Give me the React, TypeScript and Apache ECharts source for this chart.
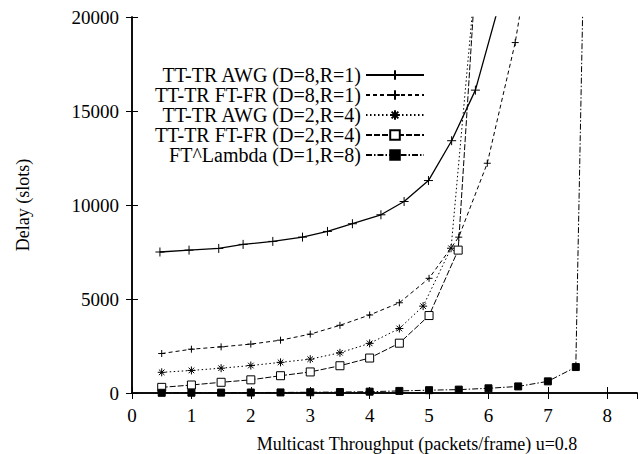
import React, { useEffect, useRef } from "react";
import * as echarts from "echarts";

const seriesNames = [
  "TT-TR AWG (D=8,R=1)",
  "TT-TR FT-FR (D=8,R=1)",
  "TT-TR AWG (D=2,R=4)",
  "TT-TR FT-FR (D=2,R=4)",
  "FT^Lambda (D=1,R=8)",
];

const awg81X = [0.47, 0.96, 1.46, 1.87, 2.37, 2.87, 3.29, 3.71, 4.19, 4.58, 4.99, 5.38, 5.78, 6.2];
const awg81Y = [7500, 7600, 7690, 7905, 8064, 8292, 8594, 9003, 9480, 10186, 11300, 13420, 16110, 20900];

const ftfr81X = [0.5, 1, 1.5, 2, 2.5, 3, 3.5, 4, 4.5, 5, 5.5, 5.98, 6.45, 6.6];
const ftfr81Y = [2100, 2330, 2455, 2600, 2810, 3130, 3600, 4150, 4800, 6100, 8290, 12220, 18640, 21500];

const awg24X = [0.5, 1, 1.5, 2, 2.5, 3, 3.5, 4, 4.5, 4.9, 5.37, 5.75];
const awg24Y = [1100, 1200, 1320, 1460, 1630, 1800, 2140, 2640, 3430, 4620, 7700, 21000];

const ftfr24X = [0.5, 1, 1.5, 2, 2.5, 3, 3.5, 4, 4.5, 5, 5.49, 5.76];
const ftfr24Y = [300, 425, 570, 700, 920, 1120, 1450, 1860, 2650, 4120, 7600, 21000];

const lambdaX = [0.5, 1, 1.5, 2, 2.5, 3, 3.5, 4, 4.5, 5, 5.5, 6, 6.5, 7, 7.47, 7.59];
const lambdaY = [10, 15, 20, 25, 30, 40, 50, 70, 110, 150, 180, 250, 350, 620, 1380, 21000];

const xTicks = [0, 1, 2, 3, 4, 5, 6, 7, 8];
const yTicks = [0, 5000, 10000, 15000, 20000];

const FONT = "Liberation Serif";
const INK = "#000";

const zip = (xs: number[], ys: number[]) => xs.map((x, i) => [x, ys[i]]);

const PLUS = "path://M0,5L10,5M5,0L5,10";
const STAR = "path://M5,0L5,10M0,5L10,5M1.5,1.5L8.5,8.5M8.5,1.5L1.5,8.5";

export default function App() {
  const ref = useRef<HTMLDivElement>(null);
  useEffect(() => {
    if (!ref.current) return;
    const chart = echarts.init(ref.current, undefined, { renderer: "svg" });
    const axisCommon = {
      type: "value" as const,
      axisLine: { show: true, lineStyle: { color: INK, width: 1.5 } },
      axisTick: { show: true, inside: true, length: 6, lineStyle: { color: INK, width: 1 } },
      splitLine: { show: false },
    };
    const xFmt = (v: number) => (xTicks.indexOf(v) >= 0 ? String(v) : "");
    const yFmt = (v: number) => (yTicks.indexOf(v) >= 0 ? String(v) : "");
    const labelStyle = { fontFamily: FONT, fontSize: 19, color: INK };
    chart.setOption({
      animation: false,
      backgroundColor: "#fff",
      grid: { left: 132, right: 7, top: 17, bottom: 61, containLabel: false },
      xAxis: [
        {
          ...axisCommon,
          position: "bottom",
          min: 0,
          max: 8.5,
          interval: 1,
          axisLabel: { ...labelStyle, margin: 13, formatter: xFmt, showMaxLabel: false },
        },
        {
          ...axisCommon,
          position: "top",
          min: 0,
          max: 8.5,
          interval: 1,
          axisLabel: { show: false },
        },
      ],
      yAxis: [
        {
          ...axisCommon,
          position: "left",
          min: 0,
          max: 20000,
          interval: 5000,
          axisLabel: { ...labelStyle, margin: 13, formatter: yFmt },
          name: "Delay (slots)",
          nameLocation: "middle",
          nameGap: 100,
          nameTextStyle: { fontFamily: FONT, fontSize: 18, color: INK },
        },
        {
          ...axisCommon,
          position: "right",
          min: 0,
          max: 20000,
          interval: 5000,
          axisLabel: { show: false },
        },
      ],
      legend: {
        orient: "vertical",
        align: "right",
        right: 214,
        top: 60,
        itemWidth: 58,
        itemHeight: 12,
        itemGap: 0,
        textStyle: { fontFamily: FONT, fontSize: 20, lineHeight: 20, color: INK },
        data: seriesNames,
      },
      graphic: [
        {
          type: "text",
          x: 417,
          y: 444,
          style: {
            text: "Multicast Throughput (packets/frame) u=0.8",
            fontFamily: FONT,
            fontSize: 18,
            fill: INK,
            textAlign: "center",
            textVerticalAlign: "middle",
          },
        },
      ],
      series: [
        {
          name: seriesNames[0],
          type: "line",
          data: zip(awg81X, awg81Y),
          symbol: PLUS,
          symbolSize: 9,
          showAllSymbol: true,
          lineStyle: { color: INK, width: 1.3, type: "solid" },
          itemStyle: { color: INK, borderColor: INK, borderWidth: 1 },
        },
        {
          name: seriesNames[1],
          type: "line",
          data: zip(ftfr81X, ftfr81Y),
          symbol: PLUS,
          symbolSize: 7,
          showAllSymbol: true,
          lineStyle: { color: INK, width: 1, type: [4, 3] },
          itemStyle: { color: INK, borderColor: INK, borderWidth: 1 },
        },
        {
          name: seriesNames[2],
          type: "line",
          data: zip(awg24X, awg24Y),
          symbol: STAR,
          symbolSize: 8,
          showAllSymbol: true,
          lineStyle: { color: INK, width: 1, type: [1.5, 2.5] },
          itemStyle: { color: INK, borderColor: INK, borderWidth: 1 },
        },
        {
          name: seriesNames[3],
          type: "line",
          data: zip(ftfr24X, ftfr24Y),
          symbol: "rect",
          symbolSize: 8,
          showAllSymbol: true,
          lineStyle: { color: INK, width: 1, type: [6, 2] },
          itemStyle: { color: "#fff", borderColor: INK, borderWidth: 1 },
        },
        {
          name: seriesNames[4],
          type: "line",
          data: zip(lambdaX, lambdaY),
          symbol: "rect",
          symbolSize: 7,
          showAllSymbol: true,
          lineStyle: { color: INK, width: 1, type: [6, 2, 1.5, 2] },
          itemStyle: { color: INK, borderColor: INK, borderWidth: 1 },
        },
      ],
    });
    return () => chart.dispose();
  }, []);
  return (
    <div
      ref={ref}
      style={{ position: "fixed", left: 0, top: 0, width: 644, height: 454, background: "#fff" }}
    />
  );
}
